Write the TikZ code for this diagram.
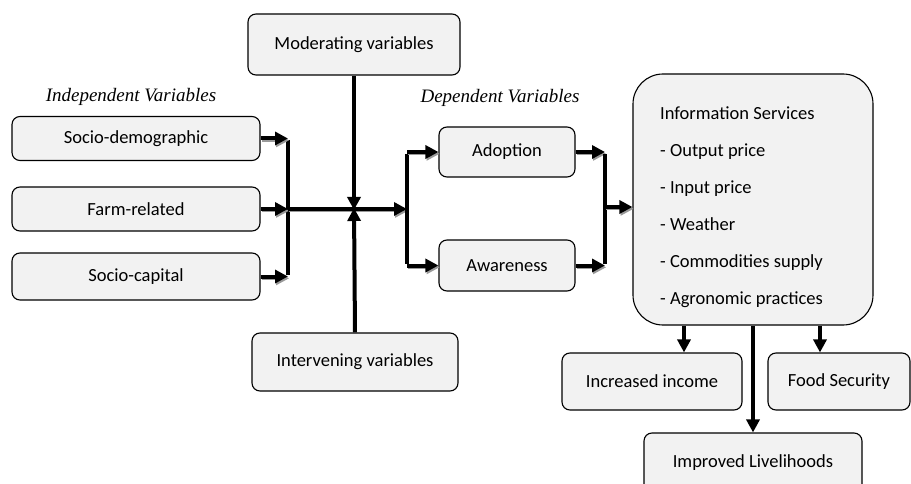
\documentclass[tikz,border=0pt]{standalone}
\usepackage{fontspec}
\setmainfont{Carlito}
\newfontfamily\timesfont{Liberation Serif}
\usetikzlibrary{arrows.meta}
\begin{document}
\begin{tikzpicture}[x=1pt,y=-1pt,
  box/.style={draw=black, line width=1.1pt, fill=black!5, rounded corners=8pt, inner sep=0pt, font=\fontsize{18.5}{22}\selectfont},
  hdr/.style={font=\timesfont\itshape\fontsize{19}{22}\selectfont, inner sep=0pt},
  arr/.style={line width=4pt, -{Triangle[length=13pt,width=13pt]},
    preaction={draw=black!40, line width=3pt, transform canvas={shift={(1.2pt,-1.8pt)}}}},
  bus/.style={line width=4pt},
  shaft/.style={line width=4pt, -{Triangle[length=13pt,width=13pt]}}]
\useasboundingbox (0,0) rectangle (911,484);

% boxes
\node[box, minimum width=248pt, minimum height=44pt] (sd) at (136,138.5) {Socio-demographic};
\node[box, minimum width=248pt, minimum height=44pt] (fr) at (136,209) {Farm-related};
\node[box, minimum width=248pt, minimum height=47pt] (sc) at (136,276.5) {Socio-capital};
\node[box, minimum width=212pt, minimum height=61pt] (mod) at (354,44.5) {Moderating variables};
\node[box, minimum width=206pt, minimum height=58pt] (int) at (355,362) {Intervening variables};
\node[box, minimum width=136pt, minimum height=50pt] (adp) at (507,152) {Adoption};
\node[box, minimum width=136pt, minimum height=51pt] (awr) at (507,265.5) {Awareness};
\node[box, rounded corners=30pt, minimum width=240pt, minimum height=251pt] (info) at (753,199.5) {};
\node[font=\fontsize{18.5}{37}\selectfont, align=left, anchor=north west, inner sep=0pt] (infotext) at (660,107)
  {Information Services\\- Output price\\- Input price\\- Weather\\- Commodities supply\\- Agronomic practices};
\node[box, minimum width=180pt, minimum height=57pt] (inc) at (652,381.5) {Increased income};
\node[box, minimum width=142pt, minimum height=57pt] (food) at (839,381.5) {Food Security};
\node[box, minimum width=218pt, minimum height=60pt] (liv) at (753,463) {Improved Livelihoods};

% headers
\node[hdr] (indep) at (131,97) {Independent Variables};
\node[hdr] (dep) at (500,98) {Dependent Variables};

% bus coordinates
\coordinate (lb1) at (288,138.5);
\coordinate (lb2) at (288,209);
\coordinate (lb3) at (288,276.5);
\coordinate (cross) at (354,209);
\coordinate (mb) at (407,209);
\coordinate (db1) at (407,152);
\coordinate (db2) at (407,265.5);
\coordinate (rb1) at (605,152);
\coordinate (rb2) at (605,265.5);
\coordinate (rbm) at (605,207);

% left group
\draw[bus] ([yshift=-2pt]lb1) -- ([yshift=2pt]lb3);
\draw[arr] (sd.east) -- (lb1);
\draw[arr] (fr.east) -- (lb2);
\draw[arr] (sc.east) -- (lb3);
\draw[arr] (lb2) -- (mb);

% moderating / intervening
\draw[shaft] (mod.south) -- ([yshift=-1pt]cross);
\draw[shaft] (int.north) -- ([yshift=1pt]cross);

% dependent
\draw[bus] ([yshift=-2pt]db1) -- ([yshift=2pt]db2);
\draw[arr] (db1) -- (adp.west);
\draw[arr] (db2) -- (awr.west);
\draw[arr] (adp.east) -- (rb1);
\draw[arr] (awr.east) -- (rb2);
\draw[bus] ([yshift=-2pt]rb1) -- ([yshift=2pt]rb2);
\draw[arr] (rbm) -- (rbm -| info.west);

% outcomes
\draw[shaft] (info.south -| inc.north) ++(32,0) coordinate (ia) -- (ia |- inc.north);
\draw[shaft] (info.south -| food.north) ++(-19,0) coordinate (fa) -- (fa |- food.north);
\draw[shaft] (info.south) -- (liv.north);
\end{tikzpicture}
\end{document}
